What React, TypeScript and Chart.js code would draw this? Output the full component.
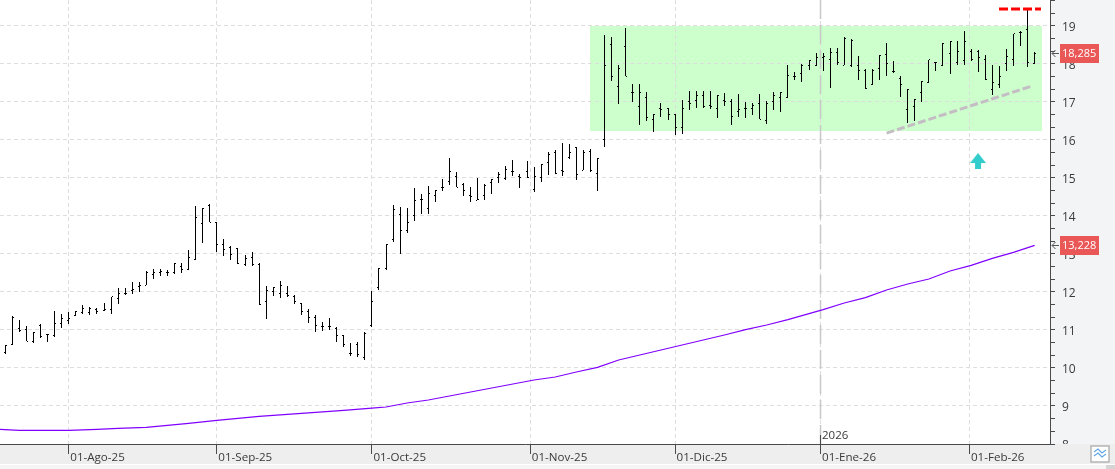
import React, { useEffect, useRef } from "react";
import { Chart, registerables } from "chart.js";

Chart.register(...registerables);

const opens = [
  10.41, 10.61, 11.05, 11.0, 10.69, 11.11, 10.88, 10.85, 11.16, 11.25, 11.39, 11.47, 11.46, 11.54, 11.52, 11.53, 11.82, 11.97, 12.05, 12.14,
  12.18, 12.47, 12.5, 12.52, 12.52, 12.66, 12.59, 12.85, 13.79, 14.27, 13.83, 13.25, 13.16, 13.15, 12.73, 12.9, 12.73, 11.74, 12.01, 11.97,
  11.97, 11.87, 11.71, 11.48, 11.33, 11.09, 11.08, 11.04, 10.85, 10.39, 10.61, 10.28, 11.12, 12.13, 12.62, 13.37, 14.03, 13.61, 14.0, 14.44,
  14.21, 14.55, 14.76, 14.92, 15.05, 14.84, 14.53, 14.42, 14.53, 14.87, 15.0, 14.99, 15.16, 15.05, 15.16, 14.71, 15.0, 15.42, 15.66, 15.21,
  15.53, 15.79, 15.21, 15.71, 15.13, 16.0, 18.5, 17.42, 18.47, 17.25, 16.89, 17.11, 16.55, 16.82, 16.82, 16.68, 16.32, 17.0, 17.05, 17.16,
  16.91, 16.84, 17.03, 17.0, 16.76, 16.84, 16.84, 16.97, 16.5, 17.0, 17.13, 17.11, 17.68, 17.76, 17.95, 17.95, 18.18, 18.11, 18.29, 17.97,
  17.97, 17.97, 17.84, 17.47, 17.87, 18.26, 17.81, 17.61, 16.79, 16.89, 17.26, 17.5, 18.05, 17.97, 18.27, 18.05, 18.08, 18.34, 18.34, 18.13,
  17.34, 17.47, 18.0, 18.13, 18.82, 18.92, 18.0,
];
const highs = [
  10.61, 11.36, 11.26, 11.11, 10.95, 11.16, 10.89, 11.51, 11.43, 11.48, 11.51, 11.67, 11.61, 11.58, 11.72, 11.88, 12.11, 12.11, 12.27, 12.25,
  12.54, 12.61, 12.61, 12.59, 12.77, 12.75, 13.11, 14.27, 14.22, 14.32, 13.85, 13.4, 13.21, 13.17, 12.98, 13.06, 12.75, 12.17, 12.13, 12.3,
  12.17, 11.92, 11.72, 11.56, 11.4, 11.2, 11.32, 11.09, 10.87, 10.66, 10.68, 10.94, 12.03, 12.64, 13.26, 14.29, 14.24, 14.21, 14.74, 14.58,
  14.79, 14.68, 14.97, 15.53, 15.16, 14.87, 14.76, 15.0, 14.84, 14.97, 15.16, 15.32, 15.47, 15.11, 15.45, 15.29, 15.37, 15.68, 15.74, 15.93,
  15.9, 15.82, 15.74, 15.76, 15.53, 18.77, 18.71, 17.97, 18.95, 17.47, 17.47, 17.27, 16.68, 16.97, 16.83, 16.68, 17.05, 17.3, 17.3, 17.3,
  17.3, 17.18, 17.24, 17.08, 17.21, 17.0, 16.97, 17.21, 17.03, 17.26, 17.26, 17.97, 17.79, 18.0, 18.11, 18.29, 18.29, 18.42, 18.42, 18.7,
  18.66, 18.21, 17.87, 17.87, 18.24, 18.55, 18.08, 17.68, 17.34, 17.08, 17.55, 18.11, 18.05, 18.55, 18.6, 18.61, 18.88, 18.39, 18.37, 18.24,
  17.97, 17.95, 18.39, 18.79, 18.87, 19.42, 18.32,
];
const lows = [
  10.36, 10.6, 10.94, 10.7, 10.65, 10.78, 10.69, 10.82, 11.04, 11.17, 11.36, 11.43, 11.39, 11.41, 11.49, 11.41, 11.69, 11.91, 11.96, 12.01,
  12.18, 12.33, 12.41, 12.43, 12.47, 12.51, 12.57, 12.83, 13.28, 13.83, 13.04, 12.94, 12.83, 12.73, 12.69, 12.69, 11.65, 11.28, 11.89, 11.83,
  11.88, 11.68, 11.39, 11.18, 10.94, 10.97, 10.99, 10.68, 10.54, 10.31, 10.28, 10.2, 11.08, 12.04, 12.57, 13.31, 12.99, 13.54, 13.86, 14.04,
  14.04, 14.36, 14.65, 14.81, 14.75, 14.52, 14.36, 14.41, 14.41, 14.57, 14.86, 14.96, 15.04, 14.73, 14.99, 14.62, 14.89, 15.07, 15.1, 15.05,
  15.5, 14.96, 15.2, 15.16, 14.65, 15.81, 17.55, 16.94, 17.68, 16.99, 16.39, 16.5, 16.2, 16.61, 16.52, 16.12, 16.15, 16.78, 16.83, 16.84,
  16.82, 16.58, 16.89, 16.39, 16.6, 16.57, 16.65, 16.55, 16.41, 16.78, 16.73, 17.1, 17.59, 17.52, 17.85, 17.95, 17.81, 17.37, 17.97, 17.97,
  17.91, 17.57, 17.33, 17.45, 17.57, 17.68, 17.76, 17.12, 16.46, 16.49, 17.0, 17.5, 17.81, 17.95, 17.73, 17.97, 17.97, 18.08, 17.78, 17.57,
  17.18, 17.36, 17.81, 17.95, 18.47, 17.91, 18.0,
];
const closes = [
  10.59, 11.34, 10.98, 10.7, 10.94, 10.82, 10.87, 11.16, 11.3, 11.29, 11.49, 11.56, 11.57, 11.49, 11.53, 11.87, 11.97, 11.96, 12.07, 12.17,
  12.52, 12.5, 12.54, 12.52, 12.75, 12.59, 12.91, 13.97, 14.2, 13.84, 13.25, 13.11, 12.98, 12.75, 12.89, 12.73, 11.68, 12.05, 12.11, 12.16,
  11.92, 11.75, 11.48, 11.32, 11.13, 11.09, 11.08, 10.85, 10.62, 10.39, 10.36, 10.91, 11.76, 12.63, 13.25, 14.18, 13.61, 13.84, 14.42, 14.44,
  14.58, 14.66, 14.76, 15.16, 14.76, 14.68, 14.5, 14.44, 14.8, 14.96, 15.08, 15.22, 15.16, 15.0, 15.0, 15.03, 15.35, 15.63, 15.11, 15.16,
  15.66, 15.08, 15.68, 15.21, 15.52, 17.97, 17.68, 17.87, 17.68, 17.25, 17.26, 16.58, 16.68, 16.79, 16.68, 16.34, 16.82, 16.95, 17.16, 16.87,
  16.87, 17.18, 17.01, 16.63, 16.79, 16.84, 16.92, 16.55, 16.95, 17.16, 17.26, 17.71, 17.66, 17.97, 18.08, 18.16, 18.21, 18.3, 18.05, 18.67,
  18.63, 17.84, 17.36, 17.84, 18.22, 18.0, 17.79, 17.45, 17.34, 17.07, 17.54, 18.11, 18.03, 18.55, 18.6, 18.34, 18.6, 18.13, 18.18, 17.58,
  17.5, 17.68, 18.21, 18.79, 18.84, 18.03, 18.285,
];

const averageBars = [
  -1, 2, 9, 13, 16, 20, 23, 26, 30, 33, 36, 40, 44, 48, 52, 54, 57, 60, 63, 66, 69, 72, 75, 78, 81, 84, 87, 90, 93, 96, 99, 102, 105, 108, 111,
  114, 116, 119, 122, 125, 128, 131, 134, 137, 140, 143, 146,
];
const averageValues = [
  8.387, 8.361, 8.361, 8.387, 8.413, 8.44, 8.492, 8.545, 8.624, 8.676, 8.729, 8.782, 8.834, 8.887, 8.945, 8.974, 9.079, 9.158, 9.263, 9.368,
  9.474, 9.579, 9.684, 9.763, 9.895, 10.018, 10.21, 10.342, 10.474, 10.605, 10.737, 10.868, 11.009, 11.132, 11.272, 11.43, 11.535, 11.711,
  11.851, 12.053, 12.21, 12.342, 12.553, 12.702, 12.886, 13.044, 13.228,
];

const monthBars = [9, 30, 52, 74.47, 95, 115.63, 136.75];
const monthLabels = ["01-Ago-25", "01-Sep-25", "01-Oct-25", "01-Nov-25", "01-Dic-25", "01-Ene-26", "01-Feb-26"];
const priceLabels = [8, 9, 10, 11, 12, 13, 14, 15, 16, 17, 18, 19];

const yearBar = 115.63;
const yearLabel = "2026";
const rangeBars = [82.94, 147.05];
const rangePrices = [16.24, 19];
const resistanceBars = [140.95, 146.9];
const resistancePrices = [19.45, 19.45];
const trendBars = [125, 145.6];
const trendPrices = [16.18, 17.42];
const arrowBar = [137.97];
const arrowPrice = [15.447];
const lastPrice = 18.285;
const lastPriceLabel = "18,285";
const lastAverage = 13.228;
const lastAverageLabel = "13,228";

const FONT = "'Open Sans'";
const TEXT = "#3a3a3a";
const AXIS = "#4a4a4a";

function tickImage(left: boolean) {
  const c = document.createElement("canvas");
  c.width = 3;
  c.height = 1;
  const g = c.getContext("2d")!;
  g.fillStyle = "#000";
  g.fillRect(left ? 0 : 2, 0, 1, 1);
  return c;
}

function arrowImage() {
  const c = document.createElement("canvas");
  c.width = 16;
  c.height = 16;
  const g = c.getContext("2d")!;
  g.fillStyle = "#33cccc";
  g.beginPath();
  g.moveTo(8, 0);
  g.lineTo(16, 10);
  g.lineTo(11, 10);
  g.lineTo(11, 16);
  g.lineTo(5, 16);
  g.lineTo(5, 10);
  g.lineTo(0, 10);
  g.closePath();
  g.fill();
  return c;
}

const panelsPlugin = {
  id: "panels",
  beforeDraw(chart: any) {
    const { ctx, scales } = chart;
    const { x, y } = scales;
    const w = chart.width;
    const h = chart.height;
    const right = x.right;
    const bottom = y.bottom;
    ctx.save();
    ctx.fillStyle = "#ffffff";
    ctx.fillRect(0, 0, w, h);
    ctx.fillStyle = "#f3f4f6";
    ctx.fillRect(right, 0, w - right, bottom);
    ctx.fillStyle = "#eeeeee";
    ctx.fillRect(0, bottom, w, 20);
    ctx.fillStyle = "#f5f5f5";
    ctx.fillRect(0, bottom + 21, w, h - bottom - 21);
    ctx.fillStyle = "#d4d4d4";
    ctx.fillRect(1106, bottom + 21, 9, h - bottom - 21);
    const left = Math.round(x.getPixelForValue(rangeBars[0]));
    const far = Math.round(x.getPixelForValue(rangeBars[1]));
    const top = Math.round(y.getPixelForValue(rangePrices[1]));
    const low = Math.round(y.getPixelForValue(rangePrices[0]));
    ctx.fillStyle = "#ccffcc";
    ctx.fillRect(left, top, far - left, low - top);
    ctx.restore();
  },
};

const snapPlugin = {
  id: "snap",
  beforeDatasetsDraw(chart: any) {
    chart.data.datasets.forEach((ds: any, i: number) => {
      if (!ds.snap) return;
      chart.getDatasetMeta(i).data.forEach((el: any) => {
        if (ds.snap === "bar") {
          el.x = Math.floor(el.x) + 0.5;
          el.y = Math.round(el.y);
          el.base = Math.round(el.base);
        } else {
          el.x = Math.floor(el.x) + 0.5;
          el.y = Math.floor(el.y) + 0.5;
        }
      });
    });
  },
};

function badge(ctx: any, y: number, text: string) {
  const cy = Math.round(y);
  ctx.fillStyle = "#e95757";
  ctx.fillRect(1060, cy - 9, 39, 19);
  ctx.fillStyle = "#ffffff";
  ctx.textAlign = "left";
  ctx.textBaseline = "middle";
  ctx.font = `11px ${FONT}`;
  ctx.fillText(text, 1062, cy + 1);
  ctx.strokeStyle = "#555555";
  ctx.lineWidth = 1;
  ctx.beginPath();
  ctx.moveTo(1059, cy + 0.5);
  ctx.lineTo(1052, cy + 0.5);
  ctx.moveTo(1055.5, cy - 3);
  ctx.lineTo(1052, cy + 0.5);
  ctx.lineTo(1055.5, cy + 4);
  ctx.stroke();
}

const overlayPlugin = {
  id: "overlay",
  afterDraw(chart: any) {
    const { ctx, scales } = chart;
    const { x, y } = scales;
    ctx.save();
    badge(ctx, y.getPixelForValue(lastPrice), lastPriceLabel);
    badge(ctx, y.getPixelForValue(lastAverage), lastAverageLabel);
    const yx = Math.floor(x.getPixelForValue(yearBar)) + 0.5;
    ctx.strokeStyle = AXIS;
    ctx.lineWidth = 1;
    ctx.beginPath();
    ctx.moveTo(yx, y.bottom - 9);
    ctx.lineTo(yx, y.bottom);
    ctx.stroke();
    ctx.fillStyle = TEXT;
    ctx.font = `11.5px ${FONT}`;
    ctx.textAlign = "left";
    ctx.textBaseline = "middle";
    ctx.fillText(yearLabel, yx + 1.5, y.bottom - 8);
    ctx.fillStyle = "#ffffff";
    ctx.fillRect(1091, 446, 18, 16);
    ctx.strokeStyle = "#b4b4b4";
    ctx.lineWidth = 1.5;
    ctx.strokeRect(1091, 446, 18, 16);
    ctx.strokeStyle = "#62a8e6";
    ctx.lineWidth = 1.2;
    for (const dy of [0, 4]) {
      ctx.beginPath();
      ctx.moveTo(1094, 452 + dy);
      ctx.lineTo(1098, 449 + dy);
      ctx.lineTo(1102, 453 + dy);
      ctx.lineTo(1106, 450 + dy);
      ctx.stroke();
    }
    ctx.restore();
  },
};

export default function App() {
  const ref = useRef<HTMLCanvasElement | null>(null);
  useEffect(() => {
    document.body.style.margin = "0";
    const bars = opens.map((_, i) => i);
    const chart = new Chart(ref.current!, {
      type: "line",
      plugins: [panelsPlugin, snapPlugin, overlayPlugin],
      data: {
        datasets: [
          {
            type: "line",
            label: "2026",
            data: [
              { x: yearBar, y: priceLabels[0] },
              { x: yearBar, y: 19.684 },
            ],
            borderColor: "#c8c8c8",
            borderWidth: 1.5,
            borderDash: [19, 6],
            pointRadius: 0,
            order: 9,
          },
          {
            type: "line",
            label: "Media",
            data: averageBars.map((b, i) => ({ x: b, y: averageValues[i] })),
            borderColor: "#8000ff",
            borderWidth: 1.2,
            pointRadius: 0,
            tension: 0,
            order: 4,
          },
          {
            type: "bar",
            label: "Rango",
            data: bars.map((i) => ({ x: i, y: [lows[i], highs[i]] })),
            backgroundColor: "#000000",
            borderWidth: 0,
            inflateAmount: 0,
            barThickness: 1,
            grouped: false,
            snap: "bar",
            order: 3,
          },
          {
            type: "scatter",
            label: "Apertura",
            data: bars.map((i) => ({ x: i, y: opens[i] })),
            pointStyle: tickImage(true),
            pointRadius: 2,
            snap: "point",
            order: 2,
          },
          {
            type: "scatter",
            label: "Cierre",
            data: bars.map((i) => ({ x: i, y: closes[i] })),
            pointStyle: tickImage(false),
            pointRadius: 2,
            snap: "point",
            order: 2,
          },
          {
            type: "line",
            label: "Resistencia",
            data: resistanceBars.map((b, i) => ({ x: b, y: resistancePrices[i] })),
            borderColor: "#ff0000",
            borderWidth: 3,
            borderDash: [9, 3],
            pointRadius: 0,
            order: 1,
          },
          {
            type: "line",
            label: "Tendencia",
            data: trendBars.map((b, i) => ({ x: b, y: trendPrices[i] })),
            borderColor: "#c4bec4",
            borderWidth: 3,
            borderDash: [8, 3],
            pointRadius: 0,
            order: 1,
          },
          {
            type: "scatter",
            label: "Señal",
            data: arrowBar.map((b, i) => ({ x: b, y: arrowPrice[i] })),
            pointStyle: arrowImage(),
            pointRadius: 8,
            order: 0,
          },
        ] as any,
      },
      options: {
        responsive: false,
        animation: false,
        devicePixelRatio: 1,
        layout: { padding: 0, autoPadding: false },
        plugins: { legend: { display: false }, title: { display: false }, tooltip: { enabled: false } },
        events: [],
        scales: {
          x: {
            type: "linear",
            position: "bottom",
            min: -0.752,
            max: 148.18,
            offset: false,
            afterBuildTicks(scale: any) {
              scale.ticks = monthBars.map((value) => ({ value }));
            },
            afterFit(scale: any) {
              scale.height = 25;
              scale.paddingLeft = 0;
              scale.paddingRight = 0;
            },
            grid: {
              offset: false,
              color: "#dddddd",
              lineWidth: 1,
              tickColor: AXIS,
              tickLength: 10,
              drawTicks: true,
            },
            border: { color: AXIS, width: 1, dash: [4, 3] },
            ticks: {
              autoSkip: false,
              maxRotation: 0,
              minRotation: 0,
              align: "start",
              labelOffset: 1.5,
              padding: -3,
              color: TEXT,
              font: { family: FONT, size: 11.6 },
              callback: (_v: any, i: number) => monthLabels[i],
            },
          },
          y: {
            type: "linear",
            position: "right",
            min: 8,
            max: 19.684,
            afterBuildTicks(scale: any) {
              const list: any[] = [];
              priceLabels.forEach((p) => {
                list.push({ value: p });
                list.push({ value: p + 1 / 3 });
                list.push({ value: p + 2 / 3 });
              });
              scale.ticks = list;
            },
            afterFit(scale: any) {
              scale.width = 65;
              scale.paddingTop = 0;
              scale.paddingBottom = 0;
              scale._computeLabelArea = () => ({ top: 0, left: scale.left, right: scale.right, bottom: scale.bottom });
            },
            grid: {
              color: (c: any) => (Number.isInteger(c.tick?.value) ? "#dddddd" : "rgba(0,0,0,0)"),
              lineWidth: 1,
              tickColor: AXIS,
              tickLength: 5,
              drawTicks: true,
            },
            border: { color: AXIS, width: 1, dash: [4, 3] },
            ticks: {
              autoSkip: false,
              padding: 7,
              labelOffset: 1.5,
              color: TEXT,
              font: { family: FONT, size: 12 },
              callback: (v: any) => (Number.isInteger(v) ? String(v) : ""),
            },
          },
        },
      } as any,
    });
    return () => chart.destroy();
  }, []);
  return (
    <div style={{ position: "fixed", left: 0, top: 0, width: 1115, height: 469 }}>
      <canvas ref={ref} width={1115} height={469} style={{ display: "block", width: 1115, height: 469 }} />
    </div>
  );
}
